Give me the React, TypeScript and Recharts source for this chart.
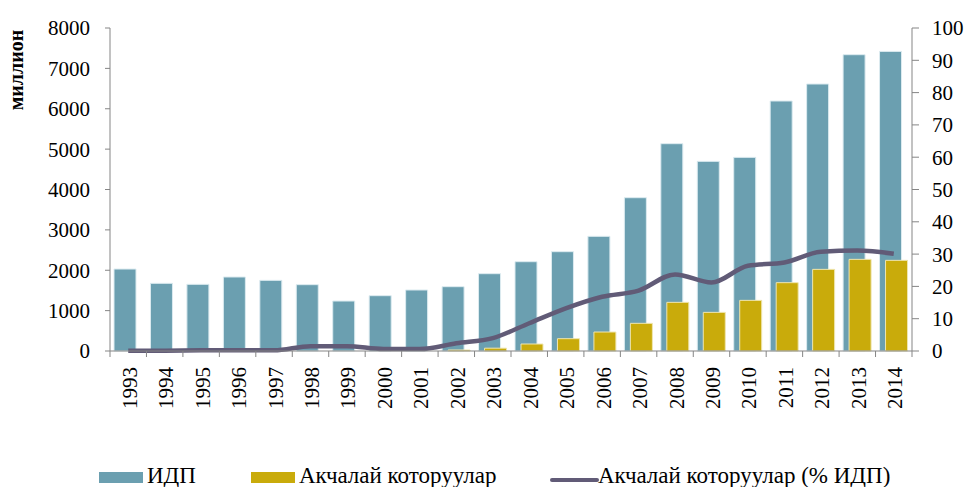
import React from 'react';
import { ComposedChart, Bar, Line, XAxis, YAxis, Legend } from 'recharts';

const years = ['1993','1994','1995','1996','1997','1998','1999','2000','2001','2002','2003','2004','2005','2006','2007','2008','2009','2010','2011','2012','2013','2014'];
const gdp = [2030, 1676, 1651, 1833, 1750, 1643, 1238, 1370, 1511, 1593, 1915, 2212, 2460, 2840, 3797, 5135, 4697, 4796, 6192, 6613, 7339, 7421];
const remittances = [0, 0, 0, 0, 0, 0, 0, 0, 0, 25, 70, 173, 305, 470, 685, 1205, 957, 1254, 1692, 2022, 2270, 2245];
const remitPct = [0.1, 0.1, 0.2, 0.2, 0.2, 1.5, 1.5, 0.6, 0.6, 2.4, 4.0, 8.6, 13.2, 16.8, 18.7, 23.7, 21.2, 26.4, 27.4, 30.7, 31.1, 30.1];
const leftTicks = [0, 1000, 2000, 3000, 4000, 5000, 6000, 7000, 8000];
const rightTicks = [0, 10, 20, 30, 40, 50, 60, 70, 80, 90, 100];
const seriesNames = ['ИДП', 'Акчалай которуулар', 'Акчалай которуулар (% ИДП)'];
const yLabel = 'миллион';

const data = years.map((y, i) => ({ year: y, gdp: gdp[i], rem: remittances[i], pct: remitPct[i] }));

const W = 970;
const H = 487;
const LEFT = 110;
const RIGHT_W = 58;
const TOP = 28;
const PLOT_BOTTOM = 351;
const BAND = (W - LEFT - RIGHT_W) / years.length;

const FONT = '"Liberation Serif", "Times New Roman", serif';
const BLUE = '#6b9fb0';
const YELLOW = '#c9ab0b';
const LINE = '#615b77';
const AXIS = '#858585';

const XTick = (props: any) => {
  const { x, payload, index } = props;
  const y0 = PLOT_BOTTOM;
  const half = BAND / 2;
  return (
    <g>
      <line x1={x - half} x2={x - half} y1={y0} y2={y0 + 6} stroke={AXIS} strokeWidth={1} />
      {index === years.length - 1 && (
        <line x1={x + half} x2={x + half} y1={y0} y2={y0 + 6} stroke={AXIS} strokeWidth={1} />
      )}
      <text
        x={x + 8.5}
        y={367}
        transform={`rotate(-90, ${x + 8.5}, 367)`}
        textAnchor="end"
        fontFamily={FONT}
        fontSize={21}
        fill="#000"
      >
        {payload.value}
      </text>
    </g>
  );
};

const LegendContent = () => {
  const items = [
    { name: seriesNames[0], color: BLUE, type: 'rect', swX: 99, txX: 147 },
    { name: seriesNames[1], color: YELLOW, type: 'rect', swX: 251, txX: 299 },
    { name: seriesNames[2], color: LINE, type: 'line', swX: 552, txX: 598 },
  ];
  return (
    <svg width={W} height={40} style={{ display: 'block' }}>
      {items.map((it) => (
        <g key={it.name}>
          {it.type === 'rect' ? (
            <rect x={it.swX} y={22} width={44} height={11} fill={it.color} />
          ) : (
            <line x1={it.swX} x2={it.swX + 45} y1={30} y2={30} stroke={it.color} strokeWidth={4} strokeLinecap="round" />
          )}
          <text x={it.txX} y={33} fontFamily={FONT} fontSize={23} fill="#000">
            {it.name}
          </text>
        </g>
      ))}
    </svg>
  );
};

export default function App() {
  return (
    <div style={{ position: 'absolute', left: 0, top: 0, width: W, height: H, background: '#fff' }}>
      <ComposedChart
        width={W}
        height={H}
        data={data}
        margin={{ top: TOP, right: 0, bottom: 0, left: 0 }}
        barSize={22}
        barGap={-16}
      >
        <XAxis
          dataKey="year"
          height={H - PLOT_BOTTOM - TOP + TOP}
          axisLine={{ stroke: AXIS, strokeWidth: 1 }}
          tickLine={false}
          tick={<XTick />}
          interval={0}
        />
        <YAxis
          yAxisId="left"
          orientation="left"
          width={LEFT}
          domain={[0, 8000]}
          ticks={leftTicks}
          interval={0}
          tickSize={5}
          tickMargin={15}
          axisLine={{ stroke: AXIS, strokeWidth: 1 }}
          tickLine={{ stroke: AXIS, strokeWidth: 1 }}
          tick={{ fill: '#000', fontFamily: FONT, fontSize: 21 }}
          label={{
            content: () => (
              <text
                x={23}
                y={70}
                transform="rotate(-90, 23, 70)"
                textAnchor="middle"
                fontFamily={FONT}
                fontWeight="bold"
                fontSize={20}
                fill="#000"
              >
                {yLabel}
              </text>
            ),
          }}
        />
        <YAxis
          yAxisId="right"
          orientation="right"
          width={RIGHT_W}
          domain={[0, 100]}
          ticks={rightTicks}
          interval={0}
          tickSize={7}
          tickMargin={13}
          axisLine={{ stroke: AXIS, strokeWidth: 1 }}
          tickLine={{ stroke: AXIS, strokeWidth: 1 }}
          tick={{ fill: '#000', fontFamily: FONT, fontSize: 21, textAnchor: 'start' }}
        />
        <Legend
          layout="horizontal"
          verticalAlign="middle"
          content={<LegendContent />}
          wrapperStyle={{ position: 'absolute', left: 0, top: 450, width: W, height: 40 }}
        />
        <Bar yAxisId="left" dataKey="gdp" name={seriesNames[0]} fill={BLUE} stroke="#dcebf0" strokeWidth={1} isAnimationActive={false} />
        <Bar yAxisId="left" dataKey="rem" name={seriesNames[1]} fill={YELLOW} stroke="#efe6b0" strokeWidth={1} isAnimationActive={false} />
        <Line
          yAxisId="right"
          dataKey="pct"
          name={seriesNames[2]}
          type="monotone"
          stroke={LINE}
          strokeWidth={4.5}
          dot={false}
          isAnimationActive={false}
        />
      </ComposedChart>
    </div>
  );
}
